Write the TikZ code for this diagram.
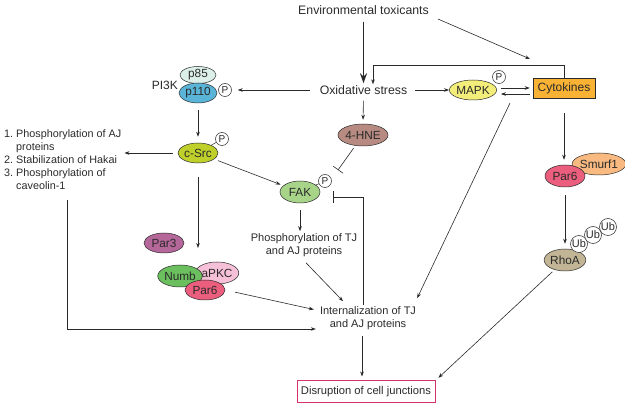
\documentclass[tikz,border=0pt]{standalone}
\usepackage{fontspec}
\setmainfont{Liberation Sans}
\usetikzlibrary{shapes.geometric,arrows.meta}
\definecolor{ink}{HTML}{2A2A2A}
\definecolor{mapkc}{HTML}{F3EE7A}
\definecolor{cytc}{HTML}{F9B233}
\definecolor{p85c}{HTML}{DDEFE9}
\definecolor{p110c}{HTML}{5AB4D8}
\definecolor{srcc}{HTML}{BFD02B}
\definecolor{fakc}{HTML}{A8D48A}
\definecolor{hnec}{HTML}{B78B81}
\definecolor{par3c}{HTML}{B5679A}
\definecolor{numbc}{HTML}{6CBF5E}
\definecolor{apkcc}{HTML}{F5C0D8}
\definecolor{par6c}{HTML}{EC5E7E}
\definecolor{smurfc}{HTML}{F8BA80}
\definecolor{rhoac}{HTML}{C2B596}
\definecolor{disrc}{HTML}{D4326A}
\begin{document}
\begin{tikzpicture}[x=1pt,y=-1pt,
  every node/.style={text=ink},
  lbl/.style={inner sep=1pt, align=center, font=\fontsize{11}{13}\selectfont},
  big/.style={inner sep=1pt, align=center, font=\fontsize{12.3}{14}\selectfont},
  prot/.style={ellipse, draw=ink, line width=0.5pt, inner sep=0pt, minimum height=20pt, minimum width=40pt, font=\fontsize{11.8}{13}\selectfont},
  pc/.style={circle, draw=ink, fill=white, line width=0.5pt, inner sep=0pt, minimum size=13pt, font=\fontsize{10}{10}\selectfont},
  ub/.style={circle, draw=ink, fill=white, line width=0.5pt, inner sep=0pt, minimum size=17pt, font=\fontsize{11}{11}\selectfont},
  arr/.style={draw=ink, line width=0.6pt, -{Stealth[length=5pt,width=3.6pt]}},
  inh/.style={draw=ink, line width=0.6pt, -{Bar[width=12pt]}},
  ln/.style={draw=ink, line width=0.5pt},
]
\useasboundingbox (0,0) rectangle (625,409);

% text labels
\node[big] (env) at (363.5,10) {Environmental toxicants};
\node[big] (ox) at (363.5,90) {Oxidative stress};
\node[draw=ink, fill=cytc, line width=0.6pt, minimum width=62pt, minimum height=20pt, inner sep=0pt, font=\fontsize{12}{14}\selectfont] (cyt) at (564,88) {Cytokines};

% MAPK
\node[pc] (mapkP) at (499,77) {P};
\node[prot, fill=mapkc, minimum width=40pt] (mapk) at (473,90) {MAPK};

% PI3K
\node[prot, fill=p85c, minimum width=36pt, minimum height=17pt] (p85) at (198,75) {p85};
\node[prot, fill=p110c, minimum width=38pt, minimum height=20pt] (p110) at (198,93) {p110};
\node[pc] (p110P) at (225,90) {P};
\node[lbl, anchor=east, font=\fontsize{12}{13}\selectfont] (pi3k) at (179,85) {PI3K};

% c-Src
\node[prot, fill=srcc] (csrc) at (198,153) {c-Src};
\node[pc] (csrcP) at (222,139) {P};
\draw[ln] (csrc) -- (csrcP);

% list
\node[anchor=north west, inner sep=0pt, font=\fontsize{10.8}{13}\selectfont] (list) at (4,128)
  {\begin{tabular}{@{}l@{\ }l@{}}1. & Phosphorylation of AJ\\ & proteins\\ 2. & Stabilization of Hakai\\ 3. & Phosphorylation of\\ & caveolin-1\end{tabular}};

% 4-HNE, FAK
\node[prot, fill=hnec, minimum width=42pt, minimum height=22pt] (hne) at (363,135) {4-HNE};
\node[prot, fill=fakc, minimum height=22pt] (fak) at (300,192) {FAK};
\node[pc] (fakP) at (325,181) {P};
\draw[ln] (fak) -- (fakP);
\node[lbl] (phos) at (304,245) {Phosphorylation of TJ\\and AJ proteins};

% polarity complex
\node[prot, fill=par3c] (par3) at (164,243) {Par3};
\node[prot, fill=apkcc, minimum height=22pt] (apkc) at (217,273) {aPKC};
\node[prot, fill=numbc, minimum width=38pt, minimum height=22pt] (numb) at (180,276) {Numb};
\node[prot, fill=par6c] (par6l) at (205,290) {Par6};

\node[lbl] (intern) at (368,318) {Internalization of TJ\\and AJ proteins};
\node[draw=disrc, line width=1pt, minimum width=138pt, minimum height=22pt, inner sep=0pt, font=\fontsize{11.2}{13}\selectfont] (disr) at (366,392) {Disruption of cell junctions};

% right branch
\node[prot, fill=smurfc, minimum width=44pt, minimum height=22pt] (smurf) at (599,164) {Smurf1};
\node[prot, fill=par6c, minimum height=22pt] (par6r) at (565,176) {Par6};
\node[prot, fill=rhoac, minimum width=41pt, minimum height=22pt] (rhoa) at (565,260) {RhoA};
\node[ub] (ub1) at (579,244) {Ub};
\node[ub] (ub2) at (593,235) {Ub};
\node[ub] (ub3) at (608,227) {Ub};

% coordinates for free ends
\coordinate (envc) at (530,59);
\coordinate (lc) at (67,200);
\coordinate (cd) at (198,248);
\coordinate (mc) at (510,103);
\coordinate (hb) at (338,170);

% connectors
\draw[draw=ink, line width=1.6pt, -{Stealth[length=10pt,width=7pt]}, shorten <=6pt, shorten >=1pt] (env) -- (ox);
\draw[arr] ([shift={(8,9)}]env.east) -- (envc);
\draw[arr] (cyt.north) |- ([xshift=9.5pt]ox.north |- 0,65) -- ([xshift=9.5pt]ox.north);
\draw[arr, shorten <=7pt] (ox.east) -- (mapk.west);
\draw[arr] ([shift={(4,-2)}]mapk.east) -- ([shift={(-3,0)}]cyt.west);
\draw[arr] ([shift={(-3,6)}]cyt.west) -- ([shift={(4,4)}]mapk.east);
\draw[arr, shorten <=9pt, shorten >=6pt] (ox.west) -- (p110P.east);
\draw[arr, shorten <=7pt, shorten >=6pt] (p110.south) -- (csrc.north);
\draw[arr, shorten <=5pt, shorten >=3pt] (csrc.west) -- (list.east |- csrc.west);
\draw[arr] (lc) |- ([xshift=-3pt]intern.west |- 0,329);
\draw[arr, shorten <=4pt, shorten >=3pt] (csrc) -- (fak);
\draw[arr, shorten <=7pt, shorten >=1pt] (fak.south) -- (fak.south |- phos.north);
\draw[arr, shorten <=14pt] (csrc.south) -- (cd);
\draw[arr, shorten <=10pt] (par6l.east) -- ([shift={(-5,-8.5)}]intern.west);
\draw[arr] ([shift={(2,5)}]phos.south) -- ([shift={(-25,-4)}]intern.north);
\draw[arr] (mc) -- ([yshift=7pt]intern.north east);
\draw[arr, shorten <=5pt, shorten >=4pt] ([xshift=-6pt]intern.south) -- ([xshift=-4pt]disr.north);
\draw[arr, shorten <=3pt, shorten >=4pt] (rhoa) -- (disr.north east);
\draw[arr, shorten <=15pt, shorten >=5pt] (cyt.south) -- (cyt.south |- par6r.north);
\draw[arr, shorten <=8pt, shorten >=5pt] (par6r.south) -- (rhoa.north);
\draw[arr, shorten <=5pt, shorten >=4pt] (ox.south) -- (hne.north);
\draw[inh, shorten <=3pt] (hne) -- (hb);
\draw[inh] ([xshift=-5pt]intern.north) |- ([xshift=13pt]fak.east |- 0,197);
\end{tikzpicture}
\end{document}
